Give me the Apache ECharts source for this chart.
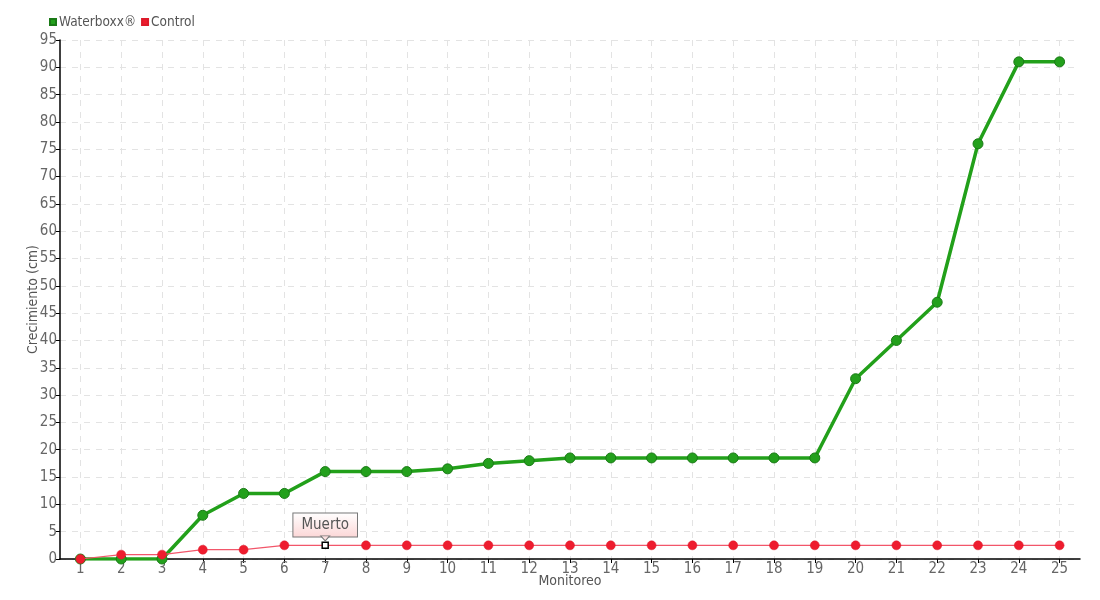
<!DOCTYPE html>
<html><head><meta charset="utf-8">
<script src="https://cdn.jsdelivr.net/npm/echarts@6/dist/echarts.min.js"></script>
<style>html,body{margin:0;padding:0;background:#fff}#c{width:1100px;height:600px}</style>
</head><body><div id="c"></div>
<script>
var categories = ['1','2','3','4','5','6','7','8','9','10','11','12','13','14','15','16','17','18','19','20','21','22','23','24','25'];
var waterboxx = [0,0,0,8,12,12,16,16,16,16.5,17.5,18,18.5,18.5,18.5,18.5,18.5,18.5,18.5,33,40,47,76,91,91];
var control = [0,0.8,0.8,1.7,1.7,2.5,2.5,2.5,2.5,2.5,2.5,2.5,2.5,2.5,2.5,2.5,2.5,2.5,2.5,2.5,2.5,2.5,2.5,2.5,2.5];
var deadIndex = 6;
var deadLabel = 'Muerto';
var seriesNames = ['Waterboxx®','Control'];

var FONT = '"Liberation Sans Narrow","DejaVu Sans Condensed",sans-serif';
var chart = echarts.init(document.getElementById('c'));
var controlData = control.map(function(v,i){
  if(i===deadIndex){
    return {value:v, symbol:'rect', symbolSize:6,
      itemStyle:{color:'#fff', borderColor:'#000', borderWidth:1.5},
      label:{show:true, position:'top', distance:5, formatter:deadLabel,
        fontFamily:FONT, fontSize:15, color:'#555',
        backgroundColor:{type:'linear',x:0,y:0,x2:0,y2:1,colorStops:[{offset:0,color:'#ffffff'},{offset:1,color:'#fcd6d6'}]},
        borderColor:'#777', borderWidth:1, padding:[4,8,4,8]}};
  }
  return v;
});
var splitStyle = {color:'#e3e3e3', type:[6,6]};
chart.setOption({
  animation:false,
  textStyle:{fontFamily:FONT},
  legend:{left:44, top:10, itemWidth:6, itemHeight:6, itemGap:5, icon:'rect',
    textStyle:{fontFamily:FONT, fontSize:13.5, color:'#555', padding:[0,0,0,-2]},
    data:seriesNames},
  grid:[{left:60, right:20, top:40, bottom:41, outerBoundsMode:'none'},
        {left:80.4, right:40.4, top:40, bottom:41, outerBoundsMode:'none'}],
  xAxis:[{type:'category', data:categories, boundaryGap:true, gridIndex:0,
    name:'Monitoreo', nameLocation:'middle', nameGap:15, nameMoveOverlap:false,
    nameTextStyle:{fontFamily:FONT, fontSize:14, color:'#555'},
    axisLine:{lineStyle:{color:'#000', width:1.5}},
    axisTick:{show:true, alignWithLabel:true, length:4, lineStyle:{color:'#000'}},
    axisLabel:{fontFamily:FONT, fontSize:15, color:'#666', margin:3},
    splitLine:{show:false}},
   {type:'category', data:categories, boundaryGap:false, gridIndex:1,
    axisLine:{show:false}, axisTick:{show:false}, axisLabel:{show:false},
    splitLine:{show:true, lineStyle:splitStyle}}],
  yAxis:[{type:'value', min:0, max:95, interval:5, gridIndex:0,
    name:'Crecimiento (cm)', nameLocation:'middle', nameGap:20, nameMoveOverlap:false,
    nameTextStyle:{fontFamily:FONT, fontSize:14, color:'#555'},
    axisLine:{show:true, lineStyle:{color:'#000', width:1.5}},
    axisTick:{show:true, length:4, lineStyle:{color:'#000'}},
    axisLabel:{fontFamily:FONT, fontSize:15, color:'#666', margin:3},
    splitLine:{show:true, lineStyle:splitStyle}},
   {type:'value', min:0, max:95, interval:5, gridIndex:1, show:false,
    splitLine:{show:false}}],
  series:[
    {name:seriesNames[0], type:'line', data:waterboxx, color:'#22a01a',
      lineStyle:{color:'#22a01a', width:3.5},
      symbol:'circle', symbolSize:10,
      itemStyle:{color:'#23a01c', borderColor:'#1a7a16', borderWidth:1}, z:2},
    {name:seriesNames[1], type:'line', data:controlData, color:'#ee1c2e',
      lineStyle:{color:'#f2566a', width:1.2},
      symbol:'circle', symbolSize:9,
      itemStyle:{color:'#ee1c2e', borderColor:'#dd1a2a', borderWidth:0.5}, z:3,
      markPoint:{silent:true, label:{show:false}, z:10,
        data:[{coord:[deadIndex, control[deadIndex]], symbol:'triangle', symbolRotate:180,
          symbolSize:[9,5], symbolOffset:[0,-7],
          itemStyle:{color:'#fde0e0', borderColor:'#777', borderWidth:1}}]}}
  ]
});
</script></body></html>
